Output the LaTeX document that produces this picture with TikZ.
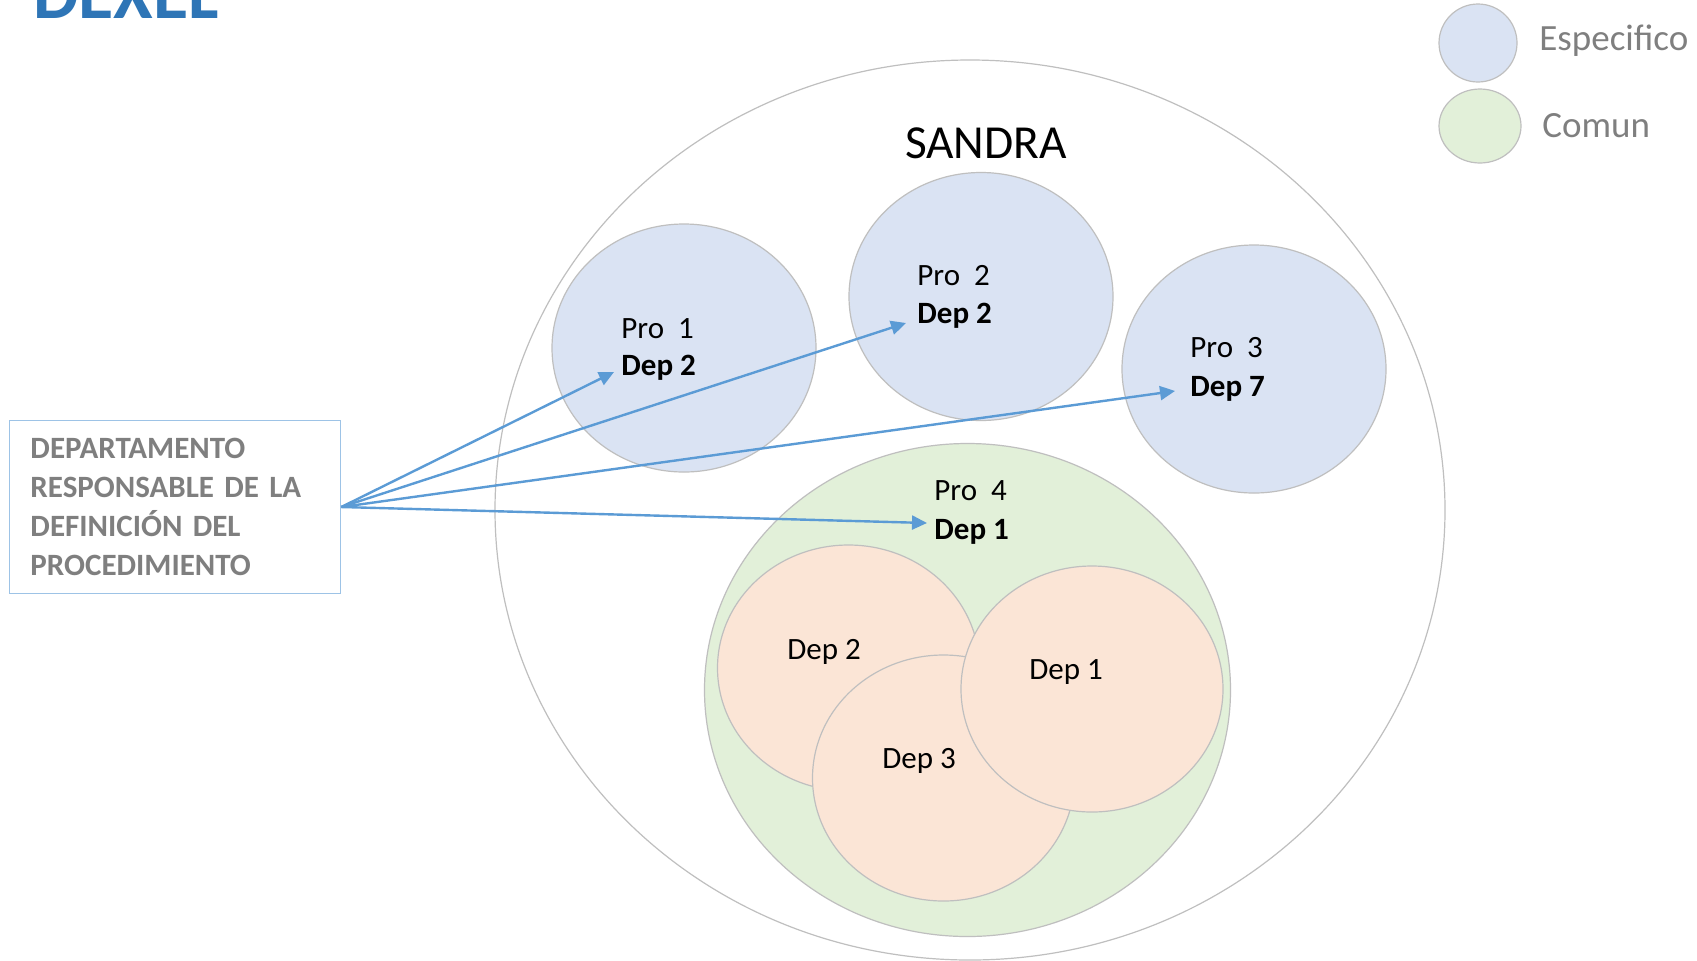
\documentclass[tikz,border=0pt]{standalone}
\usepackage{fontspec}
\setmainfont{Carlito}
\usetikzlibrary{shapes.geometric,arrows.meta,positioning}
\definecolor{specfill}{HTML}{DAE3F3}
\definecolor{comfill}{HTML}{E2F0D9}
\definecolor{depfill}{HTML}{FBE5D6}
\definecolor{circline}{HTML}{BFBFBF}
\definecolor{arrowblue}{HTML}{5B9BD5}
\definecolor{boxline}{HTML}{9DC3E6}
\definecolor{labelgray}{HTML}{7F7F7F}
\definecolor{titleblue}{HTML}{2E75B6}

\begin{document}
\begin{tikzpicture}[x=0.5pt,y=-0.5pt,
   bubble/.style={ellipse,draw=circline,line width=0.6pt,inner sep=0pt},
   spec/.style={bubble,fill=specfill,minimum width=132pt,minimum height=124pt},
   dep/.style={bubble,fill=depfill,minimum width=131pt,minimum height=123pt},
   txt/.style={anchor=base west,inner sep=0pt,font=\fontsize{15.5}{19}\selectfont},
   btxt/.style={txt,font=\bfseries\fontsize{15.5}{19}\selectfont},
   legtxt/.style={anchor=base west,inner sep=0pt,text=labelgray,font=\fontsize{18.5}{22}\selectfont},
   link/.style={-{Triangle[length=7.5pt,width=7pt]},draw=arrowblue,line width=1.2pt}]
  \useasboundingbox (0,0) rectangle (1697,960);
  \node[anchor=base west,inner sep=0pt,text=titleblue,
        font=\bfseries\fontsize{36}{40}\selectfont] (title) at (33,18) {DEXEL};

  % legend
  \node[bubble,fill=specfill,minimum width=39pt,minimum height=39pt] (legspec) at (1478,43) {};
  \node[bubble,fill=comfill,minimum width=41pt,minimum height=37pt] (legcom) at (1480,126) {};
  \node[legtxt] (legspectxt) at (1539,50) {Especifico};
  \node[legtxt] (legcomtxt) at (1542,137) {Comun};

  % system and procedures
  \node[bubble,fill=white,minimum width=475pt,minimum height=450pt] (sandra) at (970,510) {};
  \node[anchor=base,inner sep=0pt,font=\fontsize{23.7}{28}\selectfont] (sandratxt) at (986,158) {SANDRA};
  \node[spec] (pro1) at (684,348) {};
  \node[spec] (pro2) at (981,296.5) {};
  \node[spec] (pro3) at (1254,369) {};
  \node[bubble,fill=comfill,minimum width=263pt,minimum height=246.5pt] (pro4) at (967.5,690) {};
  \node[dep] (dep2) at (848.5,668) {};
  \node[dep] (dep3) at (943.5,778) {};
  \node[dep] (dep1) at (1092,689) {};

  \node[txt]  (pro1a) at (621,338)   {Pro\ \ 1};
  \node[btxt] (pro1b) at (621,375.7) {Dep 2};
  \node[txt]  (pro2a) at (917,285.7) {Pro\ \ 2};
  \node[btxt] (pro2b) at (917,323.6) {Dep 2};
  \node[txt]  (pro3a) at (1190,357)  {Pro\ \ 3};
  \node[btxt] (pro3b) at (1190,396)  {Dep 7};
  \node[txt]  (pro4a) at (934,500)   {Pro\ \ 4};
  \node[btxt] (pro4b) at (934,539)   {Dep 1};
  \node[txt]  (dep2txt) at (787,659)  {Dep 2};
  \node[txt]  (dep3txt) at (882,768)  {Dep 3};
  \node[txt]  (dep1txt) at (1029,679) {Dep 1};

  % responsible department
  \node[draw=boxline,line width=0.8pt,fill=white,minimum width=165.5pt,minimum height=86.5pt,
        inner xsep=10.5pt,text width=144.5pt,align=left,text=labelgray,
        font=\bfseries\fontsize{15.5}{19.5}\selectfont] (resp) at (175,507)
        {DEPARTAMENTO\\RESPONSABLE DE LA\\DEFINICIÓN DEL\\PROCEDIMIENTO};

  \coordinate (tip1) at (614,372);
  \coordinate (tip2) at (906,323);
  \coordinate (tip3) at (1175,391);
  \coordinate (tip4) at (927,523);
  \draw[link] (resp.east) -- (tip1);
  \draw[link] (resp.east) -- (tip2);
  \draw[link] (resp.east) -- (tip3);
  \draw[link] (resp.east) -- (tip4);
\end{tikzpicture}
\end{document}
